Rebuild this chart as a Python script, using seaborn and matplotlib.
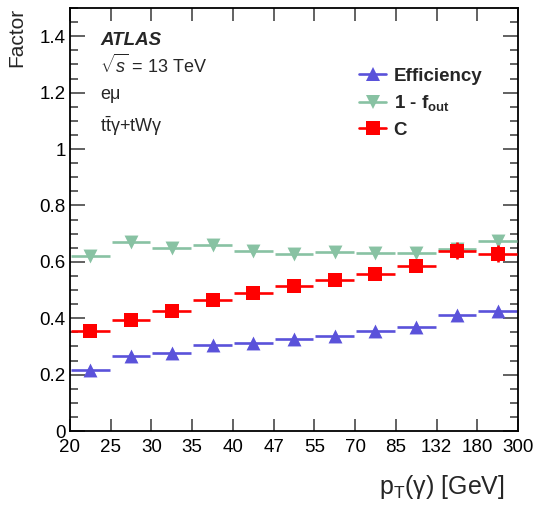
import numpy as np
import pandas as pd
import matplotlib
matplotlib.use("Agg")
import matplotlib.pyplot as plt
from matplotlib.lines import Line2D
from matplotlib.ticker import MultipleLocator, FuncFormatter
import seaborn as sns

# ---- data ----
bin_edge_labels = ['20', '25', '30', '35', '40', '47', '55', '70', '85', '132', '180', '300']
efficiency = [0.218, 0.265, 0.278, 0.306, 0.312, 0.326, 0.338, 0.354, 0.370, 0.413, 0.425]
efficiency_err = [0.004, 0.004, 0.004, 0.004, 0.004, 0.005, 0.005, 0.006, 0.006, 0.008, 0.010]
one_minus_fout = [0.620, 0.671, 0.650, 0.660, 0.637, 0.629, 0.634, 0.632, 0.630, 0.644, 0.675]
one_minus_fout_err = [0.005, 0.005, 0.005, 0.005, 0.005, 0.006, 0.006, 0.007, 0.008, 0.012, 0.015]
c_factor = [0.354, 0.393, 0.427, 0.464, 0.490, 0.515, 0.536, 0.557, 0.586, 0.639, 0.628]
c_factor_err = [0.006, 0.006, 0.007, 0.007, 0.008, 0.009, 0.010, 0.011, 0.013, 0.030, 0.030]

series_names = ['Efficiency', '1 - f$_{\\mathbf{out}}$', 'C']
series_values = [efficiency, one_minus_fout, c_factor]
series_errors = [efficiency_err, one_minus_fout_err, c_factor_err]
series_colors = ['#5A52DA', '#88C2A3', '#FF0000']
series_markers = ['^', 'v', 's']

n_bins = len(bin_edge_labels) - 1
bin_centers = np.arange(n_bins) + 0.5

# ---- style ----
sns.set_theme(style="ticks")
plt.rcParams.update({
    'font.family': ['Liberation Sans', 'DejaVu Sans'],
    'mathtext.fontset': 'custom',
    'mathtext.rm': 'Liberation Sans',
    'mathtext.it': 'Liberation Sans:italic',
    'mathtext.bf': 'Liberation Sans:bold',
    'axes.linewidth': 1.3,
    'axes.edgecolor': 'black',
})

fig = plt.figure(figsize=(5.38, 5.05), dpi=100)
ax = fig.add_axes([0.130, 0.1465, 0.833, 0.8375])

handles = []
for i, (name, vals, errs, col, mk) in enumerate(zip(series_names, series_values, series_errors,
                                                     series_colors, series_markers)):
    df = pd.DataFrame({'x': bin_centers, 'value': vals})
    ax.errorbar(bin_centers, vals, xerr=0.475, yerr=errs, fmt='none', ecolor=col,
                elinewidth=1.9, capsize=0, zorder=2 + 2 * i)
    sns.scatterplot(data=df, x='x', y='value', ax=ax, marker=mk, color=col, s=100,
                    linewidth=0, edgecolor=col, zorder=3 + 2 * i, legend=False)
    handles.append(Line2D([], [], color=col, marker=mk, markersize=10, lw=1.9,
                          markeredgewidth=0, label=name))

ax.set_xlim(0, n_bins)
ax.set_ylim(0, 1.5)
ax.set_xticks(np.arange(n_bins + 1))
ax.set_xticklabels(bin_edge_labels)
ax.yaxis.set_major_locator(MultipleLocator(0.2))
ax.yaxis.set_minor_locator(MultipleLocator(0.05))
ax.yaxis.set_major_formatter(FuncFormatter(lambda v, p: f'{v:g}'))

ax.tick_params(axis='both', which='both', direction='in', top=True, right=True,
               color='#555555', width=1.3, labelsize=13.5, labelcolor='black')
ax.tick_params(axis='y', which='major', length=10.5, pad=3)
ax.tick_params(axis='y', which='minor', length=5.5)
ax.tick_params(axis='x', which='major', length=9, pad=6)
ax.tick_params(axis='x', which='minor', length=0)

ax.set_xlabel('p$_\\mathrm{T}$(γ) [GeV]', fontsize=18)
ax.xaxis.set_label_coords(0.971, -0.100)
ax.xaxis.label.set_ha('right')
ax.xaxis.label.set_va('top')
ax.set_ylabel('Factor', fontsize=15, loc='top')
ax.yaxis.set_label_coords(-0.098, 1.0)

ax.text(0.067, 0.9125, 'ATLAS', transform=ax.transAxes, fontsize=13.5,
        fontweight='bold', fontstyle='italic', va='baseline')
ax.text(0.067, 0.847, '$\\sqrt{s}$ = 13 TeV', transform=ax.transAxes, fontsize=13, va='baseline')
ax.text(0.067, 0.784, 'eμ', transform=ax.transAxes, fontsize=13, va='baseline')
ax.text(0.067, 0.708, 't$\\mathrm{\\bar{t}}$γ+tWγ', transform=ax.transAxes, fontsize=13, va='baseline')

leg = ax.legend(handles=handles, loc='upper left', bbox_to_anchor=(0.645, 0.859),
                frameon=False, prop={'weight': 'bold', 'size': 13.5},
                handlelength=1.45, handletextpad=0.4, labelspacing=0.45,
                borderpad=0, borderaxespad=0)

fig.savefig('out.png', dpi=100)
